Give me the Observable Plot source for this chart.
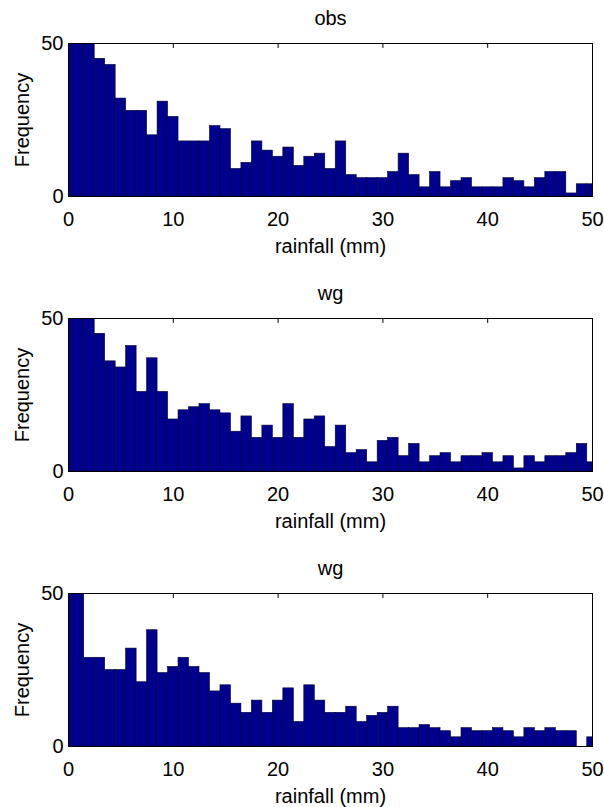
<!DOCTYPE html>
<html>
<head>
<meta charset="utf-8">
<script src="https://cdn.jsdelivr.net/npm/d3@7"></script>
<script src="https://cdn.jsdelivr.net/npm/@observablehq/plot@0.6"></script>
<style>
  body { margin: 0; background: #fff; }
  #chart svg { display: block; }
</style>
</head>
<body>
<div id="chart"></div>
<script>
// Bin centres (mm), one bar per integer, width 1
const centers = d3.range(0, 51);

const titles = ["obs", "wg", "wg"];

// Frequencies (bars reaching the top are clipped at 50)
const obs = [50, 50, 50, 45, 43, 32, 28, 28, 20, 31,
             26, 18, 18, 18, 23, 22, 9, 11, 18, 15,
             13, 16, 10, 13, 14, 9, 18, 7, 6, 6,
             6, 8, 14, 7, 3, 8, 3, 5, 6, 3,
             3, 3, 6, 5, 3, 6, 8, 8, 1, 4,
             4];
const wg1 = [50, 50, 50, 45, 36, 34, 41, 26, 37, 26,
             17, 20, 21, 22, 20, 19, 13, 18, 11, 15,
             11, 22, 11, 17, 18, 8, 15, 6, 7, 3,
             10, 11, 5, 9, 3, 5, 6, 3, 5, 5,
             6, 3, 5, 1, 5, 3, 5, 5, 6, 9,
             3];
const wg2 = [50, 50, 29, 29, 25, 25, 32, 21, 38, 24,
             26, 29, 26, 24, 18, 20, 14, 11, 15, 11,
             15, 19, 8, 20, 15, 11, 11, 13, 8, 10,
             11, 13, 6, 6, 7, 6, 5, 3, 6, 5,
             5, 6, 5, 3, 6, 5, 6, 5, 5, 0,
             3];

const xTicks = [0, 10, 20, 30, 40, 50];
const yTicks = [0, 50];
const xLabel = "rainfall (mm)";
const yLabel = "Frequency";

const seriesList = [obs, wg1, wg2];

function panel(title, values, height, marginBottom) {
  const rows = centers.map((c, i) => ({
    x1: Math.max(0, c - 0.5),
    x2: Math.min(50, c + 0.5),
    y: values[i]
  }));
  return Plot.plot({
    width: 604,
    height,
    marginTop: 43,
    marginBottom,
    marginLeft: 68,
    marginRight: 12,
    x: {domain: [0, 50]},
    y: {domain: [0, 50]},
    style: {
      fontFamily: "'Liberation Sans', Arial, Helvetica, sans-serif",
      fontSize: "20px",
      background: "white",
      color: "black"
    },
    marks: [
      Plot.ruleX(xTicks, {x: d => d, y1: 0, y2: 1.6, stroke: "black"}),
      Plot.rectY(rows, {x1: "x1", x2: "x2", y: "y", fill: "#00008f", stroke: "#000033", strokeWidth: 0.6, clip: true}),
      Plot.ruleX(xTicks, {x: d => d, y1: 48.4, y2: 50, stroke: "black"}),
      Plot.ruleY(yTicks, {y: d => d, x1: 50, x2: 49.5, stroke: "black"}),
      Plot.frame({stroke: "black"}),
      Plot.axisX(xTicks, {tickSize: 0, tickPadding: 15, label: null}),
      Plot.axisY(yTicks, {tickSize: 0, tickPadding: 5, label: null}),
      Plot.text([title], {frameAnchor: "top", lineAnchor: "middle", textAnchor: "middle", dy: -25, text: d => d}),
      Plot.text([xLabel], {frameAnchor: "bottom", lineAnchor: "middle", textAnchor: "middle", dy: 50, text: d => d}),
      Plot.text([yLabel], {frameAnchor: "left", lineAnchor: "middle", textAnchor: "middle", dx: -46, rotate: -90, text: d => d})
    ]
  });
}

const chart = document.getElementById("chart");
chart.appendChild(panel(titles[0], seriesList[0], 275, 79));
chart.appendChild(panel(titles[1], seriesList[1], 275, 79));
chart.appendChild(panel(titles[2], seriesList[2], 257, 61));
</script>
</body>
</html>
